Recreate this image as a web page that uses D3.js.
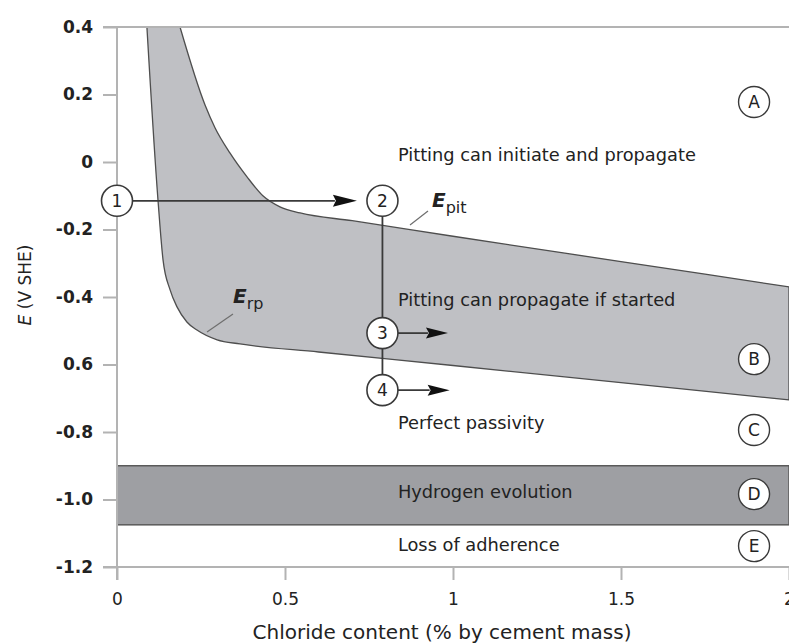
<!DOCTYPE html>
<html>
<head>
<meta charset="utf-8">
<script src="https://cdn.jsdelivr.net/npm/d3@7"></script>
<style>
  body { margin: 0; background: #fff; }
  svg { display: block; }
  text { font-family: "DejaVu Sans", sans-serif; fill: #222; }
</style>
</head>
<body>
<svg id="chart" width="789" height="644"></svg>
<script>
// Potential axis (V SHE) ticks and their printed labels
const yTickValues = [0.4, 0.2, 0, -0.2, -0.4, -0.6, -0.8, -1.0, -1.2];
const yTickLabels = ["0.4", "0.2", "0", "-0.2", "-0.4", "0.6", "-0.8", "-1.0", "-1.2"];
// Chloride axis (% by cement mass)
const xTickValues = [0, 0.5, 1, 1.5, 2];
const xTickLabels = ["0", "0.5", "1", "1.5", "2"];

// Repassivation potential E_rp
const erpChloride  = [0.089, 0.122, 0.137, 0.158, 0.179, 0.208, 0.238, 0.298, 0.366, 0.6, 1.0, 1.5, 2.0];
const erpPotential = [0.40, -0.113, -0.290, -0.379, -0.430, -0.474, -0.498, -0.527, -0.539, -0.563, -0.603, -0.654, -0.705];
// Pitting potential E_pit
const epitChloride  = [0.1875, 0.262, 0.292, 0.336, 0.387, 0.435, 0.485, 0.545, 0.7, 1.0, 1.5, 2.0];
const epitPotential = [0.40, 0.169, 0.101, 0.027, -0.044, -0.101, -0.133, -0.151, -0.174, -0.220, -0.295, -0.370];

// Hydrogen evolution band (upper, lower potential)
const hydrogenBand = [-0.9, -1.075];

// Zone descriptions
const zoneTexts = ["Pitting can initiate and propagate", "Pitting can propagate if started",
                   "Perfect passivity", "Hydrogen evolution", "Loss of adherence"];
const zoneTextPotential = [0.021, -0.409, -0.773, -0.978, -1.135];
const zoneTextChloride = 0.836;
const zoneLetters = ["A", "B", "C", "D", "E"];
const zoneLetterPotential = [0.178, -0.584, -0.794, -0.984, -1.138];
const zoneLetterChloride = 1.896;

// Numbered steps of the pitting sequence
const stepLabels = ["1", "2", "3", "4"];
const stepChloride = [0, 0.79, 0.79, 0.79];
const stepPotential = [-0.115, -0.115, -0.507, -0.676];
// Arrows leaving steps 1, 3 and 4 (step index, chloride at the arrow tip)
const arrowFromStep = [0, 2, 3];
const arrowTipChloride = [0.714, 0.985, 0.99];

const svg = d3.select("#chart");
const x = d3.scaleLinear().domain([0, 2]).range([117, 789]);
const y = d3.scaleLinear().domain([-1.2, 0.4]).range([567, 27]);

const axisColor = "#b3b3b3";
const inkColor = "#3a3a3a";

// Reverse a path made only of M, L and C commands
function reversePath(d) {
  const cmds = d.match(/[MLC][^MLC]*/g);
  const segs = [];
  let cur = null;
  cmds.forEach(c => {
    const nums = c.slice(1).split(/[ ,]+/).filter(s => s.length).map(Number);
    if (c[0] === "M") { cur = [nums[0], nums[1]]; }
    else if (c[0] === "L") { segs.push({type: "L", from: cur, to: [nums[0], nums[1]]}); cur = [nums[0], nums[1]]; }
    else {
      segs.push({type: "C", from: cur, c1: [nums[0], nums[1]], c2: [nums[2], nums[3]], to: [nums[4], nums[5]]});
      cur = [nums[4], nums[5]];
    }
  });
  let out = `M${cur[0]},${cur[1]}`;
  for (let i = segs.length - 1; i >= 0; i--) {
    const s = segs[i];
    if (s.type === "L") out += `L${s.from[0]},${s.from[1]}`;
    else out += `C${s.c2[0]},${s.c2[1]},${s.c1[0]},${s.c1[1]},${s.from[0]},${s.from[1]}`;
  }
  return out;
}

// Hydrogen evolution band
svg.append("rect")
  .attr("x", x(0)).attr("width", x(2) - x(0))
  .attr("y", y(hydrogenBand[0]))
  .attr("height", y(hydrogenBand[1]) - y(hydrogenBand[0]))
  .attr("fill", "#9e9fa3")
  .attr("stroke", "#5a5a5a").attr("stroke-width", 1.5);

// Region between E_rp and E_pit: E_rp forward, right edge, E_pit backward, top edge
const curve = d3.line().x(d => x(d[0])).y(d => y(d[1])).curve(d3.curveMonotoneX);
const erpPts = erpChloride.map((c, i) => [c, erpPotential[i]]);
const epitPts = epitChloride.map((c, i) => [c, epitPotential[i]]);
svg.append("path")
  .attr("d", curve(erpPts) + "L" + reversePath(curve(epitPts)).slice(1) + "Z")
  .attr("fill", "#bfc0c4")
  .attr("stroke", "#4e4e4e").attr("stroke-width", 1.3)
  .attr("stroke-linejoin", "round");

// Axes
const yAxis = d3.axisLeft(y).tickValues(yTickValues).tickSize(14).tickPadding(10)
  .tickFormat((d, i) => yTickLabels[i]);
const gy = svg.append("g").attr("transform", `translate(${x(0)},0)`).call(yAxis);
gy.select(".domain").remove();
gy.selectAll(".tick line").attr("stroke", axisColor).attr("stroke-width", 2);
gy.selectAll(".tick text")
  .style("font-family", "'DejaVu Sans', sans-serif")
  .style("font-size", "17px").style("font-weight", "bold").attr("fill", "#2a2a2a");

const xAxis = d3.axisBottom(x).tickValues(xTickValues).tickSize(13).tickPadding(13)
  .tickFormat((d, i) => xTickLabels[i]);
const gx = svg.append("g").attr("transform", `translate(0,${y(-1.2)})`).call(xAxis);
gx.select(".domain").remove();
gx.selectAll(".tick line").attr("stroke", axisColor).attr("stroke-width", 2);
gx.selectAll(".tick text")
  .style("font-family", "'DejaVu Sans', sans-serif")
  .style("font-size", "17px").attr("fill", "#2a2a2a");

// Frame lines: vertical axis, top and bottom rules
svg.append("line").attr("x1", x(0)).attr("x2", x(0))
  .attr("y1", y(0.4)).attr("y2", y(-1.2) + 13)
  .attr("stroke", axisColor).attr("stroke-width", 2);
[0.4, -1.2].forEach(v => {
  svg.append("line").attr("x1", x(0) - 14).attr("x2", x(2))
    .attr("y1", y(v)).attr("y2", y(v))
    .attr("stroke", axisColor).attr("stroke-width", 2);
});

// Axis titles
const yTitle = svg.append("text")
  .attr("transform", "translate(31,285) rotate(-90)")
  .attr("text-anchor", "middle")
  .style("font-size", "17px");
yTitle.append("tspan").style("font-style", "italic").text("E");
yTitle.append("tspan").text(" (V SHE)");

svg.append("text")
  .attr("x", 442).attr("y", 639)
  .attr("text-anchor", "middle")
  .style("font-size", "20px")
  .text("Chloride content (% by cement mass)");

// Curve labels with leader lines
function curveLabel(sub, ex, ey, lx1, ly1, lx2, ly2) {
  svg.append("line")
    .attr("x1", lx1).attr("y1", ly1).attr("x2", lx2).attr("y2", ly2)
    .attr("stroke", "#6e6e6e").attr("stroke-width", 1.2);
  const t = svg.append("text").attr("x", ex).attr("y", ey);
  t.append("tspan").style("font-style", "italic").style("font-weight", "bold")
    .style("font-size", "20px").text("E");
  t.append("tspan").attr("dy", 6).style("font-size", "16px").text(sub);
}
curveLabel("pit", 432, 207, 410, 225, 428, 211);
curveLabel("rp", 233, 303, 207, 332, 233, 314);

// Zone descriptions
svg.selectAll("text.zone").data(zoneTexts).join("text")
  .attr("class", "zone")
  .attr("x", x(zoneTextChloride))
  .attr("y", (d, i) => y(zoneTextPotential[i]))
  .attr("dy", "0.36em")
  .style("font-size", "17.8px")
  .text(d => d);

// Connector between steps 2, 3 and 4
svg.append("line")
  .attr("x1", x(stepChloride[1])).attr("x2", x(stepChloride[3]))
  .attr("y1", y(stepPotential[1])).attr("y2", y(stepPotential[3]))
  .attr("stroke", inkColor).attr("stroke-width", 1.8);

// Arrows
const stepR = 15.5;
arrowFromStep.forEach((s, i) => {
  const sx = x(stepChloride[s]) + stepR;
  const sy = y(stepPotential[s]);
  const tx = x(arrowTipChloride[i]);
  const headLen = i === 0 ? 24 : 22;
  const headHalf = i === 0 ? 6 : 5.5;
  svg.append("line")
    .attr("x1", sx).attr("x2", tx - headLen + 2)
    .attr("y1", sy).attr("y2", sy)
    .attr("stroke", inkColor).attr("stroke-width", 1.8);
  svg.append("path")
    .attr("d", `M${tx},${sy} L${tx - headLen},${sy - headHalf} L${tx - headLen + 3},${sy} L${tx - headLen},${sy + headHalf} Z`)
    .attr("fill", "#111");
});

// Step circles
const steps = svg.selectAll("g.step").data(stepLabels).join("g")
  .attr("class", "step")
  .attr("transform", (d, i) => `translate(${x(stepChloride[i])},${y(stepPotential[i])})`);
steps.append("circle").attr("r", stepR)
  .attr("fill", "#fff").attr("stroke", inkColor).attr("stroke-width", 1.6);
steps.append("text").attr("text-anchor", "middle").attr("dy", "0.36em")
  .style("font-size", "17px").text(d => d);

// Zone letters
const letters = svg.selectAll("g.letter").data(zoneLetters).join("g")
  .attr("class", "letter")
  .attr("transform", (d, i) => `translate(${x(zoneLetterChloride)},${y(zoneLetterPotential[i])})`);
letters.append("circle").attr("r", 15.5)
  .attr("fill", "#fff").attr("stroke", inkColor).attr("stroke-width", 1.4);
letters.append("text").attr("text-anchor", "middle").attr("dy", "0.36em")
  .style("font-size", "17px").text(d => d);
</script>
</body>
</html>
